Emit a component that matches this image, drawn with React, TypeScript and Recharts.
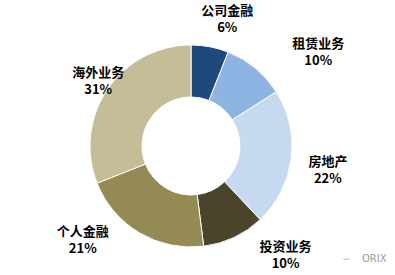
import React from "react";
import { PieChart, Pie, Cell } from "recharts";

const segments = ["公司金融", "租赁业务", "房地产", "投资业务", "个人金融", "海外业务"];
const shares = [6, 10, 22, 10, 21, 31];
const colors = ["#1F497D", "#8DB4E2", "#C6D9F1", "#4A442A", "#948A54", "#C4BD97"];
// nudges for each label, relative to a point 140px out along the slice's middle
const labelNudge = [
  [10, 11],
  [38, 14],
  [-2, 6],
  [35, -18],
  [-37, -27],
  [23, 14],
];

const data = segments.map((name, i) => ({ name, value: shares[i] }));

const RADIAN = Math.PI / 180;

function SliceLabel(props: any) {
  const { cx, cy, midAngle, index } = props;
  const r = 140;
  const x = cx + r * Math.cos(-midAngle * RADIAN) + labelNudge[index][0];
  const y = cy + r * Math.sin(-midAngle * RADIAN) + labelNudge[index][1];
  const font = { fill: "#000", fontSize: 13, fontWeight: "bold", fontFamily: "'Noto Sans CJK SC', sans-serif" };
  return (
    <g>
      <text x={x} y={y - 4} textAnchor="middle" {...font}>
        {segments[index]}
      </text>
      <text x={x} y={y + 13} textAnchor="middle" {...font}>
        {shares[index]}%
      </text>
    </g>
  );
}

export default function App() {
  return (
    <div style={{ position: "absolute", left: 0, top: 0, width: 395, height: 275, background: "#fff" }}>
      <PieChart width={395} height={275} margin={{ top: 0, right: 0, bottom: 0, left: 0 }}>
        <Pie
          data={data}
          dataKey="value"
          cx={191}
          cy={146}
          innerRadius={49}
          outerRadius={101}
          startAngle={90}
          endAngle={-270}
          stroke="#fff"
          strokeWidth={1}
          label={SliceLabel}
          labelLine={false}
          isAnimationActive={false}
        >
          {data.map((d, i) => (
            <Cell key={d.name} fill={colors[i]} />
          ))}
        </Pie>
        <text x={362} y={262} fill="#9a9a9a" fontSize={10} fontFamily="'DejaVu Sans', sans-serif">
          ORIX
        </text>
        <text x={342} y={262} fill="#b0b0b0" fontSize={10} fontFamily="'DejaVu Sans', sans-serif">
          ∽
        </text>
      </PieChart>
    </div>
  );
}
